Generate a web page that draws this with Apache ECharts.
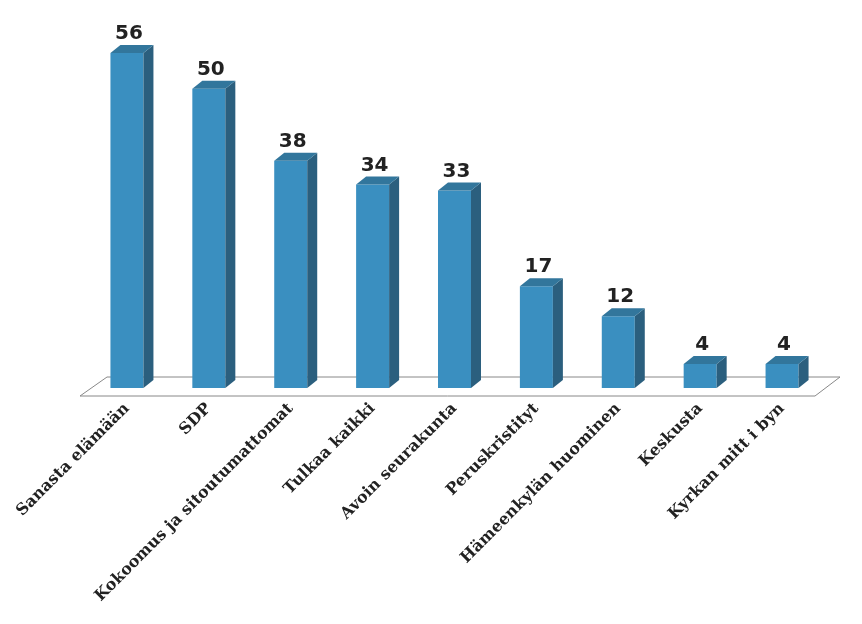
<!DOCTYPE html>
<html><head><meta charset="utf-8">
<script src="https://cdn.jsdelivr.net/npm/echarts@6/dist/echarts.min.js"></script>
<style>html,body{margin:0;background:#fff}#c{width:862px;height:624px}</style>
</head><body><div id="c"></div>
<script>
const categories = ["Sanasta elämään","SDP","Kokoomus ja sitoutumattomat","Tulkaa kaikki","Avoin seurakunta","Peruskristityt","Hämeenkylän huominen","Keskusta","Kyrkan mitt i byn"];
const values = [56,50,38,34,33,17,12,4,4];

const chart = echarts.init(document.getElementById('c'));
const W = 33, DX = 10, DY = 8;
chart.setOption({
  animation:false,
  grid:{left:86,right:39,top:29,bottom:236},
  graphic:[{type:'polygon',z:0,shape:{points:[[80,396],[107,377],[840,377],[815,396]]},
    style:{fill:'#fff',stroke:'#888',lineWidth:1}}],
  xAxis:{type:'category',data:categories,axisLine:{show:false},axisTick:{show:false},
    axisLabel:{rotate:45,interval:0,margin:18,fontFamily:'DejaVu Serif',fontWeight:'bold',fontSize:16,color:'#222'}},
  yAxis:{type:'value',min:0,max:60,show:false},
  series:[{type:'custom',z:5,data:values.map((v,i)=>[i,v]),
    renderItem:function(params,api){
      const top = api.coord([api.value(0),api.value(1)]);
      const base = api.coord([api.value(0),0]);
      const x0 = top[0]-W/2, x1 = top[0]+W/2, yt = top[1], yb = base[1];
      return {type:'group',children:[
        {type:'rect',shape:{x:x0,y:yt,width:W,height:yb-yt},style:{fill:'#3a8fc0'}},
        {type:'polygon',shape:{points:[[x1,yt],[x1+DX,yt-DY],[x1+DX,yb-DY],[x1,yb]]},style:{fill:'#2b5f7e'}},
        {type:'polygon',shape:{points:[[x0,yt],[x0+DX,yt-DY],[x1+DX,yt-DY],[x1,yt]]},style:{fill:'#32769c'}},
        {type:'text',style:{text:String(api.value(1)),x:top[0]+2,y:yt-DY-1,textAlign:'center',textVerticalAlign:'bottom',
          font:'bold 20px "DejaVu Sans"',fill:'#222'}}
      ]};
    }}]
});
</script></body></html>
